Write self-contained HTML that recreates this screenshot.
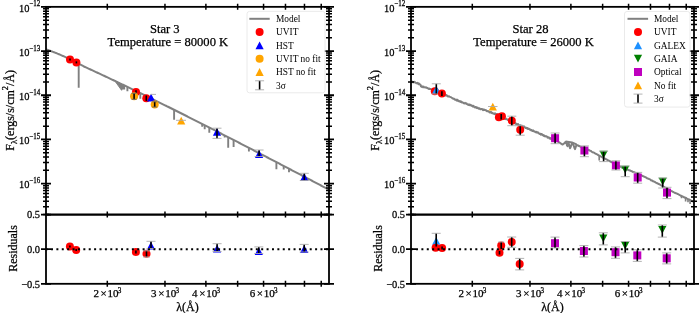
<!DOCTYPE html><html><head><meta charset="utf-8"><style>html,body{margin:0;padding:0;background:#fff;overflow:hidden}svg text{stroke:#000;stroke-width:0.25px}svg text.lg{stroke:none}svg{display:block;will-change:transform;font-variant-ligatures:none}</style></head><body>
<svg width="700" height="313" viewBox="0 0 700 313" font-family='"Liberation Serif", serif' fill="#000">
<rect width="700" height="313" fill="#fff"/>
<path d="M46 49.26 L47 49.62 L48 49.98 L49 50.34 L50 50.71 L51 51.08 L52 51.46 L53 51.84 L54 52.23 L55 52.63 L56 53.03 L57 53.43 L58 53.84 L59 54.26 L60 54.69 L61 55.12 L62 55.55 L63 56 L64 56.45 L65 56.9 L66 57.36 L67 57.83 L68 58.31 L69 58.79 L70 59.27 L71 59.77 L72 60.26 L73 60.76 L74 61.27 L75 61.78 L76 62.3 L77 62.82 L78 63.34 L79 63.86 L80 64.39 L81 64.92 L82 65.45 L83 65.99 L84 66.52 L85 66.98 L86 67.44 L87 67.89 L88 68.35 L89 68.81 L90 69.27 L91 69.73 L92 70.19 L93 70.66 L94 71.12 L95 71.58 L96 72.05 L97 72.51 L98 72.98 L99 73.44 L100 73.91 L101 74.37 L102 74.84 L103 75.31 L104 75.78 L105 76.25 L106 76.72 L107 77.19 L108 77.66 L109 78.13 L110 78.6 L111 79.07 L112 79.55 L113 80.02 L114 80.49 L115 80.97 L116 81.44 L117 81.92 L118 82.4 L119 82.87 L120 83.35 L121 83.83 L122 84.31 L123 84.78 L124 85.26 L125 85.74 L126 86.22 L127 86.7 L128 87.18 L129 87.67 L130 88.15 L131 88.63 L132 89.11 L133 89.6 L134 90.08 L135 90.56 L136 91.05 L137 91.53 L138 92.02 L139 92.5 L140 92.99 L141 93.48 L142 93.96 L143 94.45 L144 94.94 L145 95.43 L146 95.92 L147 96.41 L148 96.9 L149 97.39 L150 97.88 L151 98.37 L152 98.86 L153 99.35 L154 99.84 L155 100.33 L156 100.83 L157 101.32 L158 101.81 L159 102.31 L160 102.8 L161 103.29 L162 103.79 L163 104.28 L164 104.78 L165 105.28 L166 105.77 L167 106.27 L168 106.76 L169 107.26 L170 107.76 L171 108.26 L172 108.76 L173 109.25 L174 109.75 L175 110.25 L176 110.75 L177 111.25 L178 111.75 L179 112.25 L180 112.75 L181 113.25 L182 113.75 L183 114.25 L184 114.76 L185 115.26 L186 115.76 L187 116.26 L188 116.77 L189 117.27 L190 117.77 L191 118.28 L192 118.78 L193 119.29 L194 119.79 L195 120.3 L196 120.8 L197 121.31 L198 121.81 L199 122.32 L200 122.82 L201 123.33 L202 123.84 L203 124.34 L204 124.85 L205 125.36 L206 125.87 L207 126.37 L208 126.88 L209 127.39 L210 127.9 L211 128.41 L212 128.92 L213 129.43 L214 129.94 L215 130.45 L216 130.96 L217 131.47 L218 131.98 L219 132.49 L220 133 L221 133.51 L222 134.02 L223 134.53 L224 135.05 L225 135.56 L226 136.07 L227 136.58 L228 137.09 L229 137.61 L230 138.12 L231 138.63 L232 139.15 L233 139.66 L234 140.18 L235 140.69 L236 141.2 L237 141.72 L238 142.23 L239 142.75 L240 143.26 L241 143.78 L242 144.29 L243 144.81 L244 145.32 L245 145.84 L246 146.36 L247 146.87 L248 147.39 L249 147.91 L250 148.42 L251 148.94 L252 149.46 L253 149.98 L254 150.49 L255 151.01 L256 151.53 L257 152.05 L258 152.56 L259 153.08 L260 153.6 L261 154.12 L262 154.64 L263 155.16 L264 155.68 L265 156.2 L266 156.72 L267 157.24 L268 157.76 L269 158.28 L270 158.8 L271 159.32 L272 159.84 L273 160.36 L274 160.88 L275 161.4 L276 161.92 L277 162.44 L278 162.96 L279 163.48 L280 164 L281 164.53 L282 165.05 L283 165.57 L284 166.09 L285 166.61 L286 167.14 L287 167.66 L288 168.18 L289 168.7 L290 169.23 L291 169.75 L292 170.27 L293 170.8 L294 171.32 L295 171.84 L296 172.37 L297 172.89 L298 173.42 L299 173.94 L300 174.46 L301 174.99 L302 175.51 L303 176.04 L304 176.56 L305 177.09 L306 177.61 L307 178.14 L308 178.66 L309 179.19 L310 179.71 L311 180.24 L312 180.76 L313 181.29 L314 181.81 L315 182.34 L316 182.86 L317 183.39 L318 183.92 L319 184.44 L320 184.97 L321 185.5 L322 186.02 L323 186.55 L324 187.08 L325 187.6 L326 188.13 L327 188.66 L328 189.18 L329 189.71" stroke="#808080" stroke-width="2" fill="none" stroke-linejoin="round"/>
<path d="M78.7 63.7V87.8M122.4 84.5V89.6M124.2 85.36V89.4M127.4 86.9V91.2M140.3 93.14V98.8M174.1 109.8V119.7M202.2 123.94V126.7M204.7 125.21V129.2M209.3 127.54V132.8M224.7 135.4V137.4M228.2 137.2V147.7M233.6 139.97V147.1M248.9 147.85V151.6M276.4 162.13V169.3M283.7 165.94V169.5M289 168.7V172.2" stroke="#808080" stroke-width="1.9" fill="none"/>
<path d="M114.8 80.87L121.6 90.3L122.8 84.69Z" fill="#808080" stroke="#808080" stroke-width="1"/>
<circle cx="70" cy="59.4" r="4.0" fill="#ff0000"/>
<circle cx="76.4" cy="62.4" r="4.0" fill="#ff0000"/>
<path d="M70 58.4V60.4" stroke="#000" stroke-width="1.6"/>
<path d="M76.4 61.4V63.4" stroke="#000" stroke-width="1.6"/>
<circle cx="136" cy="92" r="4.0" fill="#ff0000"/>
<circle cx="146.3" cy="98.2" r="4.0" fill="#ff0000"/>
<path d="M136 90.3V93.2" stroke="#000" stroke-width="1.6"/>
<path d="M146.3 95.5V100.9" stroke="#000" stroke-width="1.6"/>
<circle cx="134.1" cy="96.3" r="4.0" fill="#ffa500"/>
<path d="M134.1 93.3V99.3" stroke="#000" stroke-width="1.6"/>
<path d="M131.6 93.3H136.6M131.6 99.3H136.6" stroke="#666" stroke-width="0.9"/>
<path d="M151.1 93.8L155.2 101.6H147Z" fill="#0000ff"/>
<path d="M150.4 94.4H156" stroke="#aaa" stroke-width="0.9"/>
<circle cx="154.7" cy="104.4" r="4.0" fill="#ffa500"/>
<path d="M154.7 101.8V107" stroke="#000" stroke-width="1.6"/>
<path d="M152.2 101.8H157.2M152.2 107H157.2" stroke="#666" stroke-width="0.9"/>
<path d="M181.2 116.8L185.3 124.6H177.1Z" fill="#ffa500"/>
<path d="M176 120.3H186" stroke="#aaa" stroke-width="0.9"/>
<path d="M217 127.9L221.1 135.7H212.9Z" fill="#0000ff"/>
<path d="M217 128.2V138.4" stroke="#000" stroke-width="1.6"/>
<path d="M212.5 128.2H221.5M212.5 138.4H221.5" stroke="#aaa" stroke-width="0.9"/>
<path d="M259.1 150.1L263.2 157.9H255Z" fill="#0000ff"/>
<path d="M259.1 150V156.5" stroke="#000" stroke-width="1.6"/>
<path d="M254.6 150H263.6M254.6 156.5H263.6" stroke="#aaa" stroke-width="0.9"/>
<path d="M304.3 173.1L308.4 180.9H300.2Z" fill="#0000ff"/>
<path d="M304.3 173.3V180.5" stroke="#000" stroke-width="1.6"/>
<path d="M299.8 173.3H308.8M299.8 180.5H308.8" stroke="#aaa" stroke-width="0.9"/>
<circle cx="69.9" cy="246.4" r="4.0" fill="#ff0000"/>
<circle cx="76.2" cy="249.9" r="4.0" fill="#ff0000"/>
<path d="M69.9 245.4V247.4" stroke="#000" stroke-width="1.6"/>
<path d="M76.2 248.9V250.9" stroke="#000" stroke-width="1.6"/>
<circle cx="135.9" cy="252.1" r="4.0" fill="#ff0000"/>
<path d="M135.9 250.6V253.6" stroke="#000" stroke-width="1.6"/>
<circle cx="146.5" cy="253.8" r="4.0" fill="#ff0000"/>
<path d="M146.5 250.8V257" stroke="#000" stroke-width="1.6"/>
<path d="M143 250.8H150M143 257H150" stroke="#aaa" stroke-width="0.9"/>
<path d="M151 241.7L155.1 249.5H146.9Z" fill="#0000ff"/>
<path d="M151 241.3V248.5" stroke="#000" stroke-width="1.6"/>
<path d="M146.5 241.3H155.5M146.5 248.5H155.5" stroke="#aaa" stroke-width="0.9"/>
<path d="M217.1 244.7L221.2 252.5H213Z" fill="#0000ff"/>
<path d="M217.1 243.7V251.5" stroke="#000" stroke-width="1.6"/>
<path d="M212.6 243.7H221.6M212.6 251.5H221.6" stroke="#aaa" stroke-width="0.9"/>
<path d="M258.8 247.3L262.9 255.1H254.7Z" fill="#0000ff"/>
<path d="M258.8 246.9V253.5" stroke="#000" stroke-width="1.6"/>
<path d="M254.3 246.9H263.3M254.3 253.5H263.3" stroke="#aaa" stroke-width="0.9"/>
<path d="M304.2 245.1L308.3 252.9H300.1Z" fill="#0000ff"/>
<path d="M304.2 244.4V252" stroke="#000" stroke-width="1.6"/>
<path d="M299.7 244.4H308.7M299.7 252H308.7" stroke="#aaa" stroke-width="0.9"/>
<rect x="46" y="6.85" width="283" height="207.75" fill="none" stroke="#000" stroke-width="1.8"/>
<rect x="46" y="214.6" width="283" height="69.2" fill="none" stroke="#000" stroke-width="1.8"/>
<path d="M41 183.65H51M324 183.65H334M41 139.45H51M324 139.45H334M41 95.25H51M324 95.25H334M41 51.05H51M324 51.05H334M41 6.85H51M324 6.85H334M41 214.6H51M324 214.6H334M41 249.2H51M324 249.2H334M41 283.8H51M324 283.8H334" stroke="#000" stroke-width="1.8" fill="none"/>
<path d="M43 214.54H49M326 214.54H332M43 206.76H49M326 206.76H332M43 201.24H49M326 201.24H332M43 196.96H49M326 196.96H332M43 193.46H49M326 193.46H332M43 190.5H49M326 190.5H332M43 187.93H49M326 187.93H332M43 185.67H49M326 185.67H332M43 170.34H49M326 170.34H332M43 162.56H49M326 162.56H332M43 157.04H49M326 157.04H332M43 152.76H49M326 152.76H332M43 149.26H49M326 149.26H332M43 146.3H49M326 146.3H332M43 143.73H49M326 143.73H332M43 141.47H49M326 141.47H332M43 126.14H49M326 126.14H332M43 118.36H49M326 118.36H332M43 112.84H49M326 112.84H332M43 108.56H49M326 108.56H332M43 105.06H49M326 105.06H332M43 102.1H49M326 102.1H332M43 99.53H49M326 99.53H332M43 97.27H49M326 97.27H332M43 81.94H49M326 81.94H332M43 74.16H49M326 74.16H332M43 68.64H49M326 68.64H332M43 64.36H49M326 64.36H332M43 60.86H49M326 60.86H332M43 57.9H49M326 57.9H332M43 55.33H49M326 55.33H332M43 53.07H49M326 53.07H332M43 37.74H49M326 37.74H332M43 29.96H49M326 29.96H332M43 24.44H49M326 24.44H332M43 20.16H49M326 20.16H332M43 16.66H49M326 16.66H332M43 13.7H49M326 13.7H332M43 11.13H49M326 11.13H332M43 8.87H49M326 8.87H332M107.3 3.85V9.85M107.3 211.6V217.6M107.3 280.8V286.8M164.97 3.85V9.85M164.97 211.6V217.6M164.97 280.8V286.8M205.89 3.85V9.85M205.89 211.6V217.6M205.89 280.8V286.8M237.63 3.85V9.85M237.63 211.6V217.6M237.63 280.8V286.8M263.56 3.85V9.85M263.56 211.6V217.6M263.56 280.8V286.8M285.48 3.85V9.85M285.48 211.6V217.6M285.48 280.8V286.8M304.47 3.85V9.85M304.47 211.6V217.6M304.47 280.8V286.8M321.23 3.85V9.85M321.23 211.6V217.6M321.23 280.8V286.8" stroke="#000" stroke-width="1.5" fill="none"/>
<text transform="translate(40.15,11.65) scale(0.95,1)" text-anchor="end" font-size="11">10<tspan dx="-0.3" dy="-5.3" font-size="7.4">−12</tspan></text>
<text transform="translate(40.15,55.85) scale(0.95,1)" text-anchor="end" font-size="11">10<tspan dx="-0.3" dy="-5.3" font-size="7.4">−13</tspan></text>
<text transform="translate(40.15,100.05) scale(0.95,1)" text-anchor="end" font-size="11">10<tspan dx="-0.3" dy="-5.3" font-size="7.4">−14</tspan></text>
<text transform="translate(40.15,144.25) scale(0.95,1)" text-anchor="end" font-size="11">10<tspan dx="-0.3" dy="-5.3" font-size="7.4">−15</tspan></text>
<text transform="translate(40.15,188.45) scale(0.95,1)" text-anchor="end" font-size="11">10<tspan dx="-0.3" dy="-5.3" font-size="7.4">−16</tspan></text>
<text transform="translate(40.1,218.4) scale(0.95,1)" text-anchor="end" font-size="11">0.5</text>
<text transform="translate(40.1,253) scale(0.95,1)" text-anchor="end" font-size="11">0.0</text>
<text transform="translate(40.1,287.6) scale(0.95,1)" text-anchor="end" font-size="11">−0.5</text>
<text x="107.4" y="297" text-anchor="middle" font-size="11">2<tspan dx="1.7">×</tspan><tspan dx="0.8">10</tspan><tspan dx="-0.8" dy="-4.0" font-size="7.2">3</tspan></text>
<text x="165.07" y="297" text-anchor="middle" font-size="11">3<tspan dx="1.7">×</tspan><tspan dx="0.8">10</tspan><tspan dx="-0.8" dy="-4.0" font-size="7.2">3</tspan></text>
<text x="205.99" y="297" text-anchor="middle" font-size="11">4<tspan dx="1.7">×</tspan><tspan dx="0.8">10</tspan><tspan dx="-0.8" dy="-4.0" font-size="7.2">3</tspan></text>
<text x="263.66" y="297" text-anchor="middle" font-size="11">6<tspan dx="1.7">×</tspan><tspan dx="0.8">10</tspan><tspan dx="-0.8" dy="-4.0" font-size="7.2">3</tspan></text>
<text x="187.4" y="310.5" text-anchor="middle" font-size="12">λ(Å)</text>
<text transform="translate(14,110.3) rotate(-90)" text-anchor="middle" font-size="12">F<tspan dy="3" font-size="8.4">λ</tspan><tspan dy="-3">(ergs/s/cm</tspan><tspan dy="-6.0" font-size="8.4">2</tspan><tspan dy="6.0">/Å)</tspan></text>
<text transform="translate(16.9,248.5) rotate(-90)" text-anchor="middle" font-size="12">Residuals</text>
<line x1="45.6" y1="249.2" x2="329" y2="249.2" stroke="#000" stroke-width="2" stroke-dasharray="2 3.39"/>
<rect x="247" y="11.4" width="78" height="81.4" rx="2.5" fill="#fff" fill-opacity="0.8" stroke="#e8e8e8" stroke-width="0.9"/>
<path d="M249.3 18.8H269.7" stroke="#808080" stroke-width="2"/>
<text class="lg" x="276" y="22" font-size="9.4">Model</text>
<circle cx="259.6" cy="32.1" r="4.0" fill="#ff0000"/>
<text class="lg" x="276" y="35.3" font-size="9.4">UVIT</text>
<path d="M259.6 41.5L263.7 49.3H255.5Z" fill="#0000ff"/>
<text class="lg" x="276" y="48.6" font-size="9.4">HST</text>
<circle cx="259.6" cy="58.7" r="4.0" fill="#ffa500"/>
<text class="lg" x="276" y="61.9" font-size="9.4">UVIT no fit</text>
<path d="M259.6 68.1L263.7 75.9H255.5Z" fill="#ffa500"/>
<text class="lg" x="276" y="75.2" font-size="9.4">HST no fit</text>
<path d="M259.6 80.8V89.8" stroke="#000" stroke-width="1.6"/>
<path d="M255.1 80.8H264.1M255.1 89.8H264.1" stroke="#aaa" stroke-width="0.9"/>
<text class="lg" x="276" y="88.5" font-size="9.4">3σ</text>
<text x="164.8" y="33.1" text-anchor="middle" font-size="12.6">Star 3</text>
<text x="167.9" y="46.4" text-anchor="middle" font-size="12.6">Temperature = 80000 K</text>
<path d="M411 80.73 L411.5 81.67 L412 81.45 L412.5 81.93 L413 82.37 L413.5 82.04 L414 82.16 L414.5 81.85 L415 82.23 L415.5 82.64 L416 83 L416.5 83.31 L417 83.02 L417.5 82.85 L418 83.27 L418.5 84.13 L419 83.53 L419.5 83.97 L420 84.67 L420.5 84.73 L421 86.41 L421.5 86.91 L422 86.23 L422.5 86.69 L423 87.2 L423.5 86.46 L424 87 L424.5 87.36 L425 87.39 L425.5 87.34 L426 87.24 L426.5 87.73 L427 87.78 L427.5 88.08 L428 88.13 L428.5 88.83 L429 88.94 L429.5 88.62 L430 89.08 L430.5 88.94 L431 89.33 L431.5 89.41 L432 89.93 L432.5 89.81 L433 90.1 L433.5 90.57 L434 90.42 L434.5 91.16 L435 90.55 L435.5 91.36 L436 91.19 L436.5 91.39 L437 91.81 L437.5 91.88 L438 91.95 L438.5 91.68 L439 91.97 L439.5 92.84 L440 92.83 L440.5 93.22 L441 93.7 L441.5 93.6 L442 93.11 L442.5 93.59 L443 94.1 L443.5 93.91 L444 94.91 L444.5 95.09 L445 95.18 L445.5 95 L446 95.64 L446.5 95.08 L447 95.51 L447.5 95.91 L448 96.45 L448.5 96.39 L449 96.24 L449.5 96.7 L450 96.91 L450.5 97.09 L451 97.15 L451.5 97.64 L452 97.88 L452.5 98.45 L453 98.69 L453.5 98.59 L454 98.74 L454.5 99.3 L455 99.63 L455.5 99.62 L456 99.99 L456.5 100.37 L457 99.61 L457.5 100.76 L458 100.33 L458.5 100.78 L459 101.37 L459.5 101.51 L460 101.11 L460.5 101.85 L461 101.39 L461.5 101.88 L462 102.56 L462.5 102.32 L463 102.69 L463.5 103.01 L464 103.29 L464.5 103.41 L465 102.76 L465.5 103.39 L466 103.62 L466.5 103.35 L467 104.07 L467.5 104.32 L468 104.74 L468.5 105.05 L469 104.33 L469.5 104.62 L470 105.28 L470.5 104.88 L471 105.17 L471.5 105.74 L472 105.48 L472.5 106.34 L473 106.6 L473.5 105.88 L474 106.62 L474.5 107.09 L475 107.47 L475.5 106.89 L476 106.96 L476.5 107.92 L477 108.14 L477.5 107.54 L478 108 L478.5 108.49 L479 108.81 L479.5 108.25 L480 108.98 L480.5 109.3 L481 109.17 L481.5 108.91 L482 108.93 L482.5 109.36 L483 110.1 L483.5 109.42 L484 109.54 L484.5 110.09 L485 109.92 L485.5 110.17 L486 110.2 L486.5 110.91 L487 111.26 L487.5 111.12 L488 110.96 L488.5 111.33 L489 111.78 L489.5 112.32 L490 112.54 L490.5 111.9 L491 111.83 L491.5 112.92 L492 113.21 L492.5 112.88 L493 113.41 L493.5 113.7 L494 113.61 L494.5 114.08 L495 113.33 L495.5 113.79 L496 113.98 L496.5 114 L497 115.05 L497.5 114.35 L498 115.32 L498.5 114.93 L499 115.51 L499.5 115.84 L500 115.85 L500.5 116.46 L501 116.71 L501.5 116.7 L502 117.4 L502.5 117 L503 117.27 L503.5 117.68 L504 117.95 L504.5 117.99 L505 119.01 L505.5 119.15 L506 118.59 L506.5 119.11 L507 119.2 L507.5 119.67 L508 119.71 L508.5 120.2 L509 120.89 L509.5 120.54 L510 121.07 L510.5 121.24 L511 121.64 L511.5 121.11 L512 122.09 L512.5 122.54 L513 122.39 L513.5 122.28 L514 122.93 L514.5 123.2 L515 123.37 L515.5 123.02 L516 124.14 L516.5 124.33 L517 123.96 L517.5 124.35 L518 123.95 L518.5 125.21 L519 125.23 L519.5 125.24 L520 125.59 L520.5 125.17 L521 125.51 L521.5 125.65 L522 126.25 L522.5 125.9 L523 127 L523.5 126.73 L524 126.92 L524.5 126.76 L525 127.6 L525.5 127.96 L526 127.96 L526.5 127.75 L527 128.55 L527.5 128.06 L528 129.02 L528.5 128.96 L529 128.85 L529.5 129.3 L530 129.64 L530.5 129.44 L531 130.3 L531.5 130.04 L532 130.77 L532.5 130.92 L533 130.32 L533.5 131.13 L534 130.97 L534.5 131.67 L535 131.65 L535.5 131.76 L536 132.45 L536.5 131.74 L537 132.5 L537.5 132.46 L538 132.35 L538.5 133.35 L539 133.35 L539.5 133.92 L540 133.81 L540.5 133.75 L541 134.69 L541.5 133.97 L542 134.13 L542.5 135.11 L543 134.94 L543.5 135.16 L544 135.95 L544.5 135.58 L545 136.43 L545.5 136.39 L546 136.27 L546.5 136.21 L547 136.64 L547.5 137.67 L548 137.28 L548.5 137.24 L549 137.62 L549.5 138.51 L550 137.93 L550.5 138.81 L551 138.31 L551.5 139.43 L552 139.16 L552.5 138.83 L553 140.01 L553.5 139.59 L554 140.2 L554.5 140.18 L555 139.91 L555.5 140.14 L556 140.78 L556.5 140.98 L557 141.19 L557.5 141.39 L558 141.6 L558.5 141.93 L559 142.27 L559.5 142.6 L560 142.93 L560.5 143.27 L561 143.6 L561.5 143.93 L562 144.27 L562.5 144.6 L563 144.24 L563.5 143.88 L564 143.52 L564.5 143.14 L565 142.75 L565.5 142.35 L566 141.96 L566.5 143.16 L567 145.44 L567.5 146.1 L568 144.35 L568.5 142.6 L569 144.47 L569.5 146.35 L570 148.22 L570.5 147.44 L571 146 L571.5 144.56 L572 143.45 L572.5 143.68 L573 143.91 L573.5 144.95 L574 146.54 L574.5 148.13 L575 149.11 L575.5 147.67 L576 146.24 L576.5 144.8 L577 145.04 L577.5 145.27 L578 145.51 L578.5 145.75 L579 145.98 L579.5 146.22 L580 146.46 L580.5 146.68 L581 146.89 L581.5 147.09 L582 147.36 L582.5 147.6 L583 147.56 L583.5 148.05 L584 148.29 L584.5 148.2 L585 148.56 L585.5 148.66 L586 149.04 L586.5 148.98 L587 149.37 L587.5 149.68 L588 149.87 L588.5 149.83 L589 150.32 L589.5 150.29 L590 150.72 L590.5 150.87 L591 151.02 L591.5 151.52 L592 151.82 L592.5 152.05 L593 152.43 L593.5 152.43 L594 152.7 L594.5 152.94 L595 153.37 L595.5 153.59 L596 153.84 L596.5 154.16 L597 154.36 L597.5 154.53 L598 154.99 L598.5 155.17 L599 155.49 L599.5 155.94 L600 155.9 L600.5 156.34 L601 156.6 L601.5 156.72 L602 157.05 L602.5 157.5 L603 157.51 L603.5 157.91 L604 158.22 L604.5 158.29 L605 158.79 L605.5 158.92 L606 159.13 L606.5 159.48 L607 159.64 L607.5 160.02 L608 160.11 L608.5 160.63 L609 160.75 L609.5 160.9 L610 161.24 L610.5 161.69 L611 161.92 L611.5 162.05 L612 162.25 L612.5 162.52 L613 163 L613.5 162.92 L614 163.48 L614.5 163.72 L615 163.73 L615.5 164.03 L616 164.37 L616.5 164.72 L617 165.03 L617.5 165.3 L618 165.28 L618.5 165.5 L619 165.87 L619.5 166.15 L620 166.44 L620.5 166.49 L621 166.95 L621.5 167.31 L622 167.56 L622.5 167.77 L623 167.96 L623.5 168.18 L624 168.03 L624.5 168.56 L625 168.51 L625.5 168.73 L626 168.98 L626.5 169.38 L627 169.44 L627.5 169.54 L628 169.75 L628.5 170.16 L629 170.32 L629.5 170.26 L630 170.5 L630.5 170.75 L631 170.89 L631.5 171.22 L632 171.29 L632.5 171.63 L633 171.97 L633.5 172.13 L634 172.05 L634.5 172.29 L635 172.57 L635.5 172.86 L636 172.96 L636.5 173.1 L637 173.34 L637.5 173.49 L638 173.94 L638.5 174.08 L639 174.17 L639.5 174.48 L640 174.61 L640.5 174.86 L641 175.05 L641.5 175.35 L642 175.79 L642.5 175.96 L643 176.23 L643.5 176.21 L644 176.6 L644.5 176.8 L645 176.94 L645.5 177.31 L646 177.44 L646.5 177.75 L647 178.22 L647.5 178.42 L648 178.68 L648.5 178.69 L649 178.97 L649.5 179.17 L650 179.45 L650.5 179.7 L651 180.28 L651.5 180.5 L652 180.49 L652.5 180.76 L653 181.28 L653.5 181.38 L654 181.55 L654.5 181.84 L655 182.01 L655.5 182.38 L656 182.69 L656.5 182.86 L657 183.22 L657.5 183.2 L658 183.64 L658.5 184.04 L659 183.96 L659.5 184.35 L660 184.65 L660.5 184.82 L661 185.34 L661.5 185.44 L662 185.72 L662.5 186.16 L663 186.1 L663.5 186.71 L664 186.71 L664.5 187.09 L665 187.41 L665.5 187.69 L666 187.8 L666.5 188.19 L667 188.49 L667.5 189 L668 189.27 L668.5 189.42 L669 189.84 L669.5 190.09 L670 190.19 L670.5 190.37 L671 190.84 L671.5 190.98 L672 191.1 L672.5 191.72 L673 191.96 L673.5 192.04 L674 192.32 L674.5 192.58 L675 192.93 L675.5 193 L676 193.29 L676.5 193.39 L677 193.65 L677.5 194 L678 194.13 L678.5 194.3 L679 194.68 L679.5 195.07 L680 195.13 L680.5 195.6 L681 195.79 L681.5 196.01 L682 196.35 L682.5 196.28 L683 196.57 L683.5 197.09 L684 197.33 L684.5 197.26 L685 197.77 L685.5 197.72 L686 198.02 L686.5 198.25 L687 198.57 L687.5 198.85 L688 199.29 L688.5 199.35 L689 199.48 L689.5 199.78 L690 199.92 L690.5 200.17 L691 200.57 L691.5 200.84 L692 200.97 L692.5 201.25 L693 201.38 L693.5 201.83 L694 201.96" stroke="#808080" stroke-width="2" fill="none" stroke-linejoin="round"/>
<path d="M564.3 143.3L566.2 141.6L572 142.4L576.5 144.4" stroke="#808080" stroke-width="2" fill="none"/>
<path d="M599.2 155.62V160.5M681.5 195.95V198.2M685.6 197.96V201.6M688 199.13V202.2M690.1 200.16V204" stroke="#808080" stroke-width="1.6" fill="none"/>
<circle cx="434.8" cy="91.3" r="4.0" fill="#ff0000"/>
<path d="M436.3 85.7L440.4 93.5H432.2Z" fill="#1e90ff"/>
<path d="M436.3 83.8V94" stroke="#000" stroke-width="1.6"/>
<path d="M431.8 83.8H440.8M431.8 94H440.8" stroke="#aaa" stroke-width="0.9"/>
<circle cx="441.9" cy="93.5" r="4.0" fill="#ff0000"/>
<path d="M441.9 91.3V96" stroke="#000" stroke-width="1.6"/>
<path d="M492.8 102.7L496.9 110.5H488.7Z" fill="#ffa500"/>
<path d="M488 106.5H497.5" stroke="#aaa" stroke-width="0.9"/>
<circle cx="498.9" cy="117.3" r="4.0" fill="#ff0000"/>
<circle cx="501.9" cy="116.2" r="4.0" fill="#ff0000"/>
<path d="M501.2 114V119.5" stroke="#000" stroke-width="1.6"/>
<circle cx="511.8" cy="120.7" r="4.0" fill="#ff0000"/>
<path d="M511.8 116.2V125.7" stroke="#000" stroke-width="1.6"/>
<path d="M507.3 116.2H516.3M507.3 125.7H516.3" stroke="#aaa" stroke-width="0.9"/>
<circle cx="520.2" cy="129.8" r="4.0" fill="#ff0000"/>
<path d="M520.2 125.7V135.2" stroke="#000" stroke-width="1.6"/>
<path d="M515.7 125.7H524.7M515.7 135.2H524.7" stroke="#aaa" stroke-width="0.9"/>
<rect x="551.1" y="134.2" width="8" height="8" fill="#bf00bf"/>
<path d="M555.1 133V143.7" stroke="#000" stroke-width="1.6"/>
<path d="M550.6 133H559.6M550.6 143.7H559.6" stroke="#aaa" stroke-width="0.9"/>
<rect x="580.4" y="146.5" width="8" height="8" fill="#bf00bf"/>
<path d="M584.4 145.9V156.7" stroke="#000" stroke-width="1.6"/>
<path d="M579.9 145.9H588.9M579.9 156.7H588.9" stroke="#aaa" stroke-width="0.9"/>
<path d="M603.6 158.5L607.7 150.7H599.5Z" fill="#008000"/>
<path d="M603.6 151.2V161.6" stroke="#000" stroke-width="1.6"/>
<path d="M599.1 151.2H608.1M599.1 161.6H608.1" stroke="#aaa" stroke-width="0.9"/>
<rect x="611.9" y="161.4" width="8" height="8" fill="#bf00bf"/>
<path d="M615.9 160.8V170" stroke="#000" stroke-width="1.6"/>
<path d="M611.4 160.8H620.4M611.4 170H620.4" stroke="#aaa" stroke-width="0.9"/>
<path d="M625.2 173.5L629.3 165.7H621.1Z" fill="#008000"/>
<path d="M625.2 166V176.7" stroke="#000" stroke-width="1.6"/>
<path d="M620.7 166H629.7M620.7 176.7H629.7" stroke="#aaa" stroke-width="0.9"/>
<rect x="633.7" y="173.5" width="8" height="8" fill="#bf00bf"/>
<path d="M637.7 172.4V183.2" stroke="#000" stroke-width="1.6"/>
<path d="M633.2 172.4H642.2M633.2 183.2H642.2" stroke="#aaa" stroke-width="0.9"/>
<path d="M662.7 185.5L666.8 177.7H658.6Z" fill="#008000"/>
<path d="M662.7 178V188" stroke="#000" stroke-width="1.6"/>
<path d="M658.2 178H667.2M658.2 188H667.2" stroke="#aaa" stroke-width="0.9"/>
<rect x="663" y="188.6" width="8" height="8" fill="#bf00bf"/>
<path d="M667 187.3V198.6" stroke="#000" stroke-width="1.6"/>
<path d="M662.5 187.3H671.5M662.5 198.6H671.5" stroke="#aaa" stroke-width="0.9"/>
<path d="M436.2 237L440.3 244.8H432.1Z" fill="#1e90ff"/>
<circle cx="435.6" cy="247.8" r="4.0" fill="#ff0000"/>
<circle cx="442.1" cy="248" r="4.0" fill="#ff0000"/>
<path d="M436.2 233.3V246.5" stroke="#000" stroke-width="1.6"/>
<path d="M431.7 233.3H440.7" stroke="#aaa" stroke-width="0.9"/>
<path d="M442.1 246.5V249.5" stroke="#000" stroke-width="1.6"/>
<circle cx="501.2" cy="245.6" r="4.0" fill="#ff0000"/>
<path d="M501.2 242V249.5" stroke="#000" stroke-width="1.6"/>
<path d="M498.2 242H504.2M498.2 249.5H504.2" stroke="#aaa" stroke-width="0.9"/>
<circle cx="499.5" cy="252.8" r="4.0" fill="#ff0000"/>
<path d="M499.5 251V254.5" stroke="#000" stroke-width="1.6"/>
<circle cx="511.7" cy="242.1" r="4.0" fill="#ff0000"/>
<path d="M511.7 237V247.3" stroke="#000" stroke-width="1.6"/>
<path d="M507.2 237H516.2M507.2 247.3H516.2" stroke="#aaa" stroke-width="0.9"/>
<circle cx="519.7" cy="264.1" r="4.0" fill="#ff0000"/>
<path d="M519.7 258.4V269.9" stroke="#000" stroke-width="1.6"/>
<path d="M515.2 258.4H524.2M515.2 269.9H524.2" stroke="#aaa" stroke-width="0.9"/>
<rect x="551" y="239.2" width="8" height="8" fill="#bf00bf"/>
<path d="M555 237.1V248" stroke="#000" stroke-width="1.6"/>
<path d="M550.5 237.1H559.5M550.5 248H559.5" stroke="#aaa" stroke-width="0.9"/>
<rect x="579.9" y="247" width="8" height="8" fill="#bf00bf"/>
<path d="M583.9 245.6V257" stroke="#000" stroke-width="1.6"/>
<path d="M579.4 245.6H588.4M579.4 257H588.4" stroke="#aaa" stroke-width="0.9"/>
<path d="M603.3 242.3L607.4 234.5H599.2Z" fill="#008000"/>
<path d="M603.3 232.8V244.9" stroke="#000" stroke-width="1.6"/>
<path d="M598.8 232.8H607.8M598.8 244.9H607.8" stroke="#aaa" stroke-width="0.9"/>
<rect x="611.5" y="248.2" width="8" height="8" fill="#bf00bf"/>
<path d="M615.5 246.9V258.3" stroke="#000" stroke-width="1.6"/>
<path d="M611 246.9H620M611 258.3H620" stroke="#aaa" stroke-width="0.9"/>
<path d="M625.2 249.5L629.3 241.7H621.1Z" fill="#008000"/>
<path d="M625.2 241.5V252.9" stroke="#000" stroke-width="1.6"/>
<path d="M620.7 241.5H629.7M620.7 252.9H629.7" stroke="#aaa" stroke-width="0.9"/>
<rect x="633.3" y="251.4" width="8" height="8" fill="#bf00bf"/>
<path d="M637.3 249.8V261.4" stroke="#000" stroke-width="1.6"/>
<path d="M632.8 249.8H641.8M632.8 261.4H641.8" stroke="#aaa" stroke-width="0.9"/>
<path d="M662.3 233.8L666.4 226H658.2Z" fill="#008000"/>
<path d="M662.3 225V237.1" stroke="#000" stroke-width="1.6"/>
<path d="M657.8 225H666.8M657.8 237.1H666.8" stroke="#aaa" stroke-width="0.9"/>
<rect x="662.7" y="254.3" width="8" height="8" fill="#bf00bf"/>
<path d="M666.7 252.9V263.9" stroke="#000" stroke-width="1.6"/>
<path d="M662.2 252.9H671.2M662.2 263.9H671.2" stroke="#aaa" stroke-width="0.9"/>
<rect x="411" y="6.85" width="283" height="207.75" fill="none" stroke="#000" stroke-width="1.8"/>
<rect x="411" y="214.6" width="283" height="69.2" fill="none" stroke="#000" stroke-width="1.8"/>
<path d="M406 183.65H416M689 183.65H699M406 139.45H416M689 139.45H699M406 95.25H416M689 95.25H699M406 51.05H416M689 51.05H699M406 6.85H416M689 6.85H699M406 214.6H416M689 214.6H699M406 249.2H416M689 249.2H699M406 283.8H416M689 283.8H699" stroke="#000" stroke-width="1.8" fill="none"/>
<path d="M408 214.54H414M691 214.54H697M408 206.76H414M691 206.76H697M408 201.24H414M691 201.24H697M408 196.96H414M691 196.96H697M408 193.46H414M691 193.46H697M408 190.5H414M691 190.5H697M408 187.93H414M691 187.93H697M408 185.67H414M691 185.67H697M408 170.34H414M691 170.34H697M408 162.56H414M691 162.56H697M408 157.04H414M691 157.04H697M408 152.76H414M691 152.76H697M408 149.26H414M691 149.26H697M408 146.3H414M691 146.3H697M408 143.73H414M691 143.73H697M408 141.47H414M691 141.47H697M408 126.14H414M691 126.14H697M408 118.36H414M691 118.36H697M408 112.84H414M691 112.84H697M408 108.56H414M691 108.56H697M408 105.06H414M691 105.06H697M408 102.1H414M691 102.1H697M408 99.53H414M691 99.53H697M408 97.27H414M691 97.27H697M408 81.94H414M691 81.94H697M408 74.16H414M691 74.16H697M408 68.64H414M691 68.64H697M408 64.36H414M691 64.36H697M408 60.86H414M691 60.86H697M408 57.9H414M691 57.9H697M408 55.33H414M691 55.33H697M408 53.07H414M691 53.07H697M408 37.74H414M691 37.74H697M408 29.96H414M691 29.96H697M408 24.44H414M691 24.44H697M408 20.16H414M691 20.16H697M408 16.66H414M691 16.66H697M408 13.7H414M691 13.7H697M408 11.13H414M691 11.13H697M408 8.87H414M691 8.87H697M472.3 3.85V9.85M472.3 211.6V217.6M472.3 280.8V286.8M529.97 3.85V9.85M529.97 211.6V217.6M529.97 280.8V286.8M570.89 3.85V9.85M570.89 211.6V217.6M570.89 280.8V286.8M602.63 3.85V9.85M602.63 211.6V217.6M602.63 280.8V286.8M628.56 3.85V9.85M628.56 211.6V217.6M628.56 280.8V286.8M650.48 3.85V9.85M650.48 211.6V217.6M650.48 280.8V286.8M669.47 3.85V9.85M669.47 211.6V217.6M669.47 280.8V286.8M686.23 3.85V9.85M686.23 211.6V217.6M686.23 280.8V286.8" stroke="#000" stroke-width="1.5" fill="none"/>
<text transform="translate(405.15,11.65) scale(0.95,1)" text-anchor="end" font-size="11">10<tspan dx="-0.3" dy="-5.3" font-size="7.4">−12</tspan></text>
<text transform="translate(405.15,55.85) scale(0.95,1)" text-anchor="end" font-size="11">10<tspan dx="-0.3" dy="-5.3" font-size="7.4">−13</tspan></text>
<text transform="translate(405.15,100.05) scale(0.95,1)" text-anchor="end" font-size="11">10<tspan dx="-0.3" dy="-5.3" font-size="7.4">−14</tspan></text>
<text transform="translate(405.15,144.25) scale(0.95,1)" text-anchor="end" font-size="11">10<tspan dx="-0.3" dy="-5.3" font-size="7.4">−15</tspan></text>
<text transform="translate(405.15,188.45) scale(0.95,1)" text-anchor="end" font-size="11">10<tspan dx="-0.3" dy="-5.3" font-size="7.4">−16</tspan></text>
<text transform="translate(405.1,218.4) scale(0.95,1)" text-anchor="end" font-size="11">0.5</text>
<text transform="translate(405.1,253) scale(0.95,1)" text-anchor="end" font-size="11">0.0</text>
<text transform="translate(405.1,287.6) scale(0.95,1)" text-anchor="end" font-size="11">−0.5</text>
<text x="472.4" y="297" text-anchor="middle" font-size="11">2<tspan dx="1.7">×</tspan><tspan dx="0.8">10</tspan><tspan dx="-0.8" dy="-4.0" font-size="7.2">3</tspan></text>
<text x="530.07" y="297" text-anchor="middle" font-size="11">3<tspan dx="1.7">×</tspan><tspan dx="0.8">10</tspan><tspan dx="-0.8" dy="-4.0" font-size="7.2">3</tspan></text>
<text x="570.99" y="297" text-anchor="middle" font-size="11">4<tspan dx="1.7">×</tspan><tspan dx="0.8">10</tspan><tspan dx="-0.8" dy="-4.0" font-size="7.2">3</tspan></text>
<text x="628.66" y="297" text-anchor="middle" font-size="11">6<tspan dx="1.7">×</tspan><tspan dx="0.8">10</tspan><tspan dx="-0.8" dy="-4.0" font-size="7.2">3</tspan></text>
<text x="552.4" y="310.5" text-anchor="middle" font-size="12">λ(Å)</text>
<text transform="translate(379,110.3) rotate(-90)" text-anchor="middle" font-size="12">F<tspan dy="3" font-size="8.4">λ</tspan><tspan dy="-3">(ergs/s/cm</tspan><tspan dy="-6.0" font-size="8.4">2</tspan><tspan dy="6.0">/Å)</tspan></text>
<text transform="translate(381.9,248.5) rotate(-90)" text-anchor="middle" font-size="12">Residuals</text>
<line x1="410.6" y1="249.2" x2="694" y2="249.2" stroke="#000" stroke-width="2" stroke-dasharray="2 3.39"/>
<rect x="624.5" y="11.5" width="65.5" height="95.6" rx="2.5" fill="#fff" fill-opacity="0.8" stroke="#e8e8e8" stroke-width="0.9"/>
<path d="M627.5 18.8H648.1" stroke="#808080" stroke-width="2"/>
<text class="lg" x="654" y="22" font-size="9.4">Model</text>
<circle cx="638" cy="32.1" r="4.0" fill="#ff0000"/>
<text class="lg" x="654" y="35.3" font-size="9.4">UVIT</text>
<path d="M638 41.5L642.1 49.3H633.9Z" fill="#1e90ff"/>
<text class="lg" x="654" y="48.6" font-size="9.4">GALEX</text>
<path d="M638 62.6L642.1 54.8H633.9Z" fill="#008000"/>
<text class="lg" x="654" y="61.9" font-size="9.4">GAIA</text>
<rect x="634" y="68" width="8" height="8" fill="#bf00bf"/>
<text class="lg" x="654" y="75.2" font-size="9.4">Optical</text>
<path d="M638 81.4L642.1 89.2H633.9Z" fill="#ffa500"/>
<text class="lg" x="654" y="88.5" font-size="9.4">No fit</text>
<path d="M638 94.1V103.1" stroke="#000" stroke-width="1.6"/>
<path d="M633.5 94.1H642.5M633.5 103.1H642.5" stroke="#aaa" stroke-width="0.9"/>
<text class="lg" x="654" y="101.8" font-size="9.4">3σ</text>
<text x="530.5" y="33.1" text-anchor="middle" font-size="12.6">Star 28</text>
<text x="533.6" y="46.4" text-anchor="middle" font-size="12.6">Temperature = 26000 K</text>
</svg></body></html>
